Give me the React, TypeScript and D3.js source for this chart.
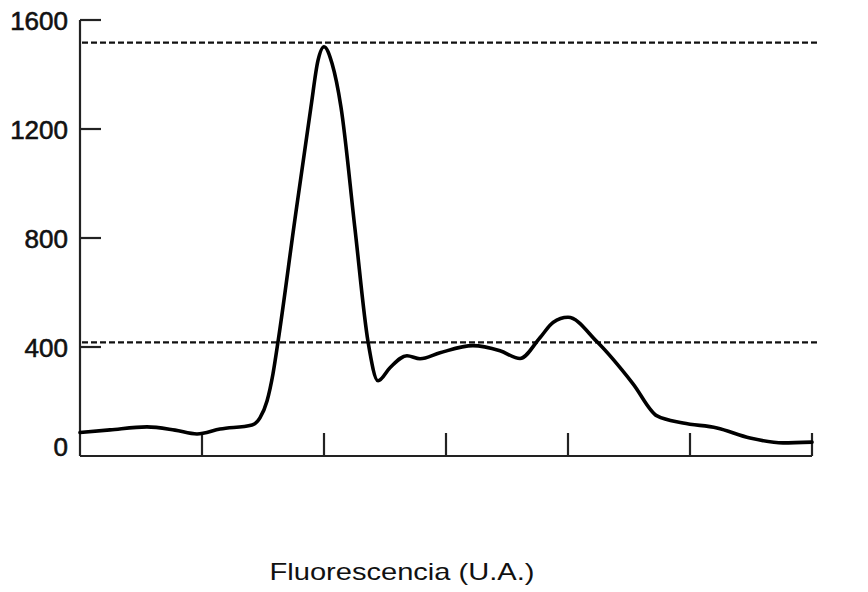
import React from "react";
import * as d3 from "d3";

// curve points: position along the (unlabelled) x axis, 0..6 tick units
const curveX = [
  0, 0.246, 0.549, 0.779, 0.959, 1.148, 1.41, 1.475, 1.533, 1.582, 1.623,
  1.762, 1.893, 1.95, 2.0, 2.066, 2.139, 2.254, 2.361, 2.443, 2.541, 2.68,
  2.787, 2.951, 3.221, 3.443, 3.607, 3.77, 3.877, 4.0, 4.238, 4.533, 4.73,
  4.943, 5.221, 5.492, 5.762, 6.0,
];
// fluorescence values
const curveY = [
  86, 96, 107, 95, 81, 99, 114, 140, 202, 302, 419, 870, 1281, 1450, 1502,
  1440, 1281, 833, 419, 276, 324, 368, 357, 379, 405, 386, 358, 434, 490, 509,
  419, 265, 147, 121, 103, 66, 48, 51,
];

const yTicks = [1600, 1200, 800, 400];
const yLabels = [1600, 1200, 800, 400, 0];
const xTicks = [1, 2, 3, 4, 5, 6];
const refLines = [1517, 417];
const xTitle = "Fluorescencia (U.A.)";

export default function App() {
  const width = 868;
  const height = 592;
  const x = d3.scaleLinear().domain([0, 6]).range([80, 812]);
  const y = d3.scaleLinear().domain([0, 1600]).range([456, 20]);

  const pts = curveX.map((v, i) => [v, curveY[i]] as [number, number]);
  const line = d3
    .line<[number, number]>()
    .x((d) => x(d[0]))
    .y((d) => y(d[1]))
    .curve(d3.curveMonotoneX);

  const font = "'Liberation Sans', Arial, sans-serif";

  return (
    <svg
      width={width}
      height={height}
      style={{ position: "absolute", left: 0, top: 0, background: "#fff" }}
    >
      {/* dashed reference levels */}
      {refLines.map((v) => (
        <line
          key={v}
          x1={x(0) + 2}
          x2={817}
          y1={y(v)}
          y2={y(v)}
          stroke="#111"
          strokeWidth={2.2}
          strokeDasharray="6,3"
        />
      ))}

      {/* y axis */}
      <line x1={x(0)} x2={x(0)} y1={y(1600)} y2={y(0)} stroke="#222" strokeWidth={2.2} />
      {yTicks.map((t) => (
        <line
          key={t}
          x1={x(0)}
          x2={x(0) + 21}
          y1={y(t)}
          y2={y(t)}
          stroke="#222"
          strokeWidth={2.2}
        />
      ))}
      {yLabels.map((t) => (
        <text
          key={t}
          x={68}
          y={t === 0 ? y(0) - 9 : y(t) + 1}
          textAnchor="end"
          dominantBaseline="central"
          fontFamily={font}
          fontSize={26}
          fill="#111"
          stroke="#111"
          strokeWidth={0.6}
        >
          {t}
        </text>
      ))}

      {/* x axis */}
      <line x1={x(0)} x2={x(6)} y1={y(0)} y2={y(0)} stroke="#222" strokeWidth={2.2} />
      {xTicks.map((t) => (
        <line
          key={t}
          x1={x(t)}
          x2={x(t)}
          y1={y(0)}
          y2={y(0) - 23}
          stroke="#222"
          strokeWidth={2.2}
        />
      ))}

      {/* curve */}
      <path
        d={line(pts) ?? ""}
        fill="none"
        stroke="#000"
        strokeWidth={3.6}
        strokeLinejoin="round"
        strokeLinecap="round"
      />

      <text
        x={402}
        y={580}
        textAnchor="middle"
        fontFamily={font}
        fontSize={24}
        textLength={265}
        lengthAdjust="spacingAndGlyphs"
        fill="#111"
      >
        {xTitle}
      </text>
    </svg>
  );
}
